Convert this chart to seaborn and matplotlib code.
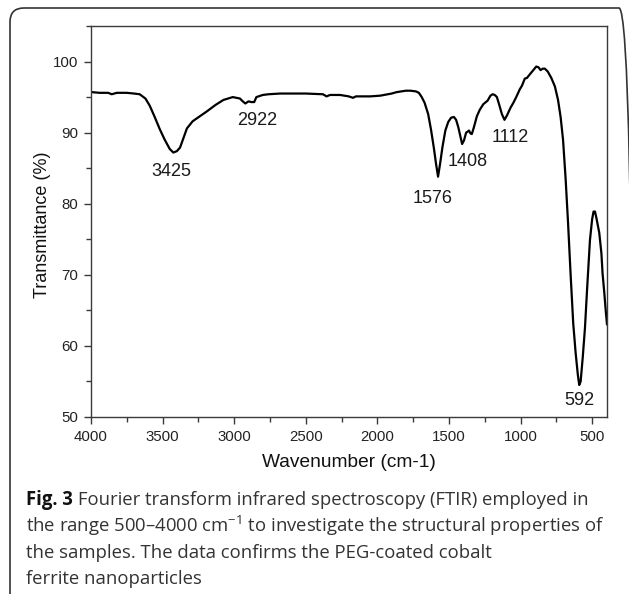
import numpy as np
import pandas as pd
import matplotlib
matplotlib.use("Agg")
import matplotlib.pyplot as plt
import matplotlib.patches as mpatches
from matplotlib.transforms import IdentityTransform
from matplotlib.ticker import MultipleLocator
import seaborn as sns

# ---- data ----
wavenumber = [3995, 3940, 3880, 3855, 3820, 3750, 3700, 3660, 3620, 3590,
              3555, 3520, 3485, 3450, 3425, 3400, 3378, 3355, 3330, 3290,
              3240, 3190, 3130, 3075, 3010, 2960, 2940, 2922, 2900, 2880,
              2860, 2845, 2800, 2760, 2680, 2500, 2380, 2355, 2330, 2260,
              2200, 2170, 2150, 2050, 1980, 1900, 1865, 1800, 1770, 1730,
              1710, 1690, 1670, 1645, 1625, 1605, 1590, 1576, 1562, 1545,
              1525, 1505, 1485, 1465, 1450, 1435, 1420, 1408, 1395, 1380,
              1372, 1360, 1350, 1340, 1325, 1305, 1285, 1260, 1230, 1210,
              1195, 1180, 1165, 1150, 1130, 1112, 1095, 1070, 1050, 1030,
              1005, 990, 970, 955, 935, 910, 890, 875, 860, 845,
              830, 810, 785, 760, 738, 720, 703, 685, 668, 650,
              632, 615, 600, 590, 580, 565, 550, 535, 515, 500,
              490, 480, 470, 450, 435, 427, 415, 405, 396]
transmittance = [95.7, 95.6, 95.6, 95.4, 95.6, 95.6, 95.5, 95.4, 94.8, 93.8,
                 92.2, 90.5, 89.0, 87.7, 87.2, 87.4, 87.9, 89.2, 90.6, 91.6,
                 92.3, 93.0, 93.9, 94.6, 95.0, 94.8, 94.4, 94.1, 94.4, 94.3,
                 94.3, 95.0, 95.3, 95.4, 95.5, 95.5, 95.4, 95.1, 95.3, 95.3,
                 95.1, 94.9, 95.1, 95.1, 95.2, 95.5, 95.7, 95.9, 95.9, 95.8,
                 95.6, 95.0, 94.2, 92.6, 90.4, 87.8, 85.6, 83.8, 85.6, 88.0,
                 90.3, 91.5, 92.1, 92.2, 91.8, 90.8, 89.5, 88.4, 88.9, 90.0,
                 90.1, 90.3, 89.9, 89.8, 90.8, 92.3, 93.2, 94.0, 94.5, 95.2,
                 95.4, 95.3, 95.0, 94.0, 92.6, 91.8, 92.4, 93.5, 94.2, 95.0,
                 96.1, 96.6, 97.6, 97.7, 98.2, 98.8, 99.3, 99.2, 98.8, 99.0,
                 99.0, 98.6, 97.7, 96.5, 94.6, 92.2, 89.0, 83.5, 77.3, 70.0,
                 63.2, 59.0, 56.0, 54.5, 55.0, 58.5, 62.5, 68.0, 74.9, 77.8,
                 78.9, 78.9, 78.0, 75.9, 73.0, 70.2, 67.5, 65.0, 63.0]

peak_labels = ["3425", "2922", "1576", "1408", "1112", "592"]
peak_label_x = [3438, 2842, 1616, 1368, 1070, 590]
peak_label_y = [84.55, 91.7, 80.7, 85.9, 89.3, 52.3]

x_label = "Wavenumber (cm-1)"
y_label = "Transmittance (%)"
caption_bold = "Fig. 3"
caption_lines = [
    "Fourier transform infrared spectroscopy (FTIR) employed in",
    "the range 500\u20134000 cm$^{\u22121}$ to investigate the structural properties of",
    "the samples. The data confirms the PEG-coated cobalt",
    "ferrite nanoparticles",
]

# ---- style ----
sns.set_theme(style="ticks")
plt.rcParams["font.family"] = ["Liberation Sans", "DejaVu Sans"]
plt.rcParams["mathtext.fontset"] = "custom"
plt.rcParams["mathtext.rm"] = "Open Sans"
plt.rcParams["mathtext.default"] = "regular"

W, H = 629, 594
fig = plt.figure(figsize=(W / 100, H / 100), dpi=100)
fig.patch.set_facecolor("white")

ax_l, ax_r, ax_t, ax_b = 91, 607, 26, 417
ax = fig.add_axes([ax_l / W, (H - ax_b) / H, (ax_r - ax_l) / W, (ax_b - ax_t) / H])

df = pd.DataFrame({"wn": wavenumber, "T": transmittance})
sns.lineplot(data=df, x="wn", y="T", sort=False, estimator=None,
             color="black", linewidth=1.6, ax=ax)

ax.set_xlim(4000, 396)
ax.set_ylim(50, 105)
ax.xaxis.set_major_locator(MultipleLocator(500))
ax.xaxis.set_minor_locator(MultipleLocator(250))
ax.yaxis.set_major_locator(MultipleLocator(10))
ax.yaxis.set_minor_locator(MultipleLocator(5))

spine_col = "#3a3a3a"
for s in ax.spines.values():
    s.set_color(spine_col)
    s.set_linewidth(1.0)
    s.set_visible(True)
ax.tick_params(which="major", direction="out", length=5.2, width=1.0,
               color=spine_col, labelsize=10.8, labelcolor="#222222", pad=4)
ax.tick_params(which="minor", direction="out", length=3.4, width=1.0,
               color=spine_col)

ax.set_xlabel(x_label, fontsize=13.8, color="#111111")
ax.set_ylabel(y_label, fontsize=13, color="#111111")
ax.xaxis.set_label_coords(0.499, (ax_b - 462.7) / (ax_b - ax_t))
ax.xaxis.label.set_verticalalignment("center")
ax.yaxis.set_label_coords((43 - ax_l) / (ax_r - ax_l), (ax_b - 225) / (ax_b - ax_t))
ax.yaxis.label.set_verticalalignment("center")

for lab, lx, ly in zip(peak_labels, peak_label_x, peak_label_y):
    ax.text(lx, ly, lab, ha="center", va="center", fontsize=13, color="#1a1a1a")

# ---- rounded frame (open at bottom and right, cropped) ----
frame = mpatches.FancyBboxPatch((10, -60), 623, (H - 8) + 60,
                                boxstyle="round,pad=0,rounding_size=14",
                                transform=IdentityTransform(),
                                facecolor="none", edgecolor="#333333",
                                linewidth=1.2)
fig.add_artist(frame)

# ---- caption ----
cap_font = ["Open Sans", "DejaVu Sans"]
cap_size = 13.35
baselines = [505, 531.7, 558, 583.5]
x0 = 26.5
fig.canvas.draw()
renderer = fig.canvas.get_renderer()
tb = fig.text(x0 / W, (H - baselines[0]) / H, caption_bold, family=cap_font,
              weight="bold", fontsize=cap_size, color="#111111", va="baseline")
bb = tb.get_window_extent(renderer)
fig.text((bb.x1 + 5) / W, (H - baselines[0]) / H, caption_lines[0],
         family=cap_font, fontsize=cap_size, color="#333333", va="baseline")
for line, yb in zip(caption_lines[1:], baselines[1:]):
    fig.text(x0 / W, (H - yb) / H, line, family=cap_font, fontsize=cap_size,
             color="#333333", va="baseline")

fig.savefig("out.png", dpi=100)
